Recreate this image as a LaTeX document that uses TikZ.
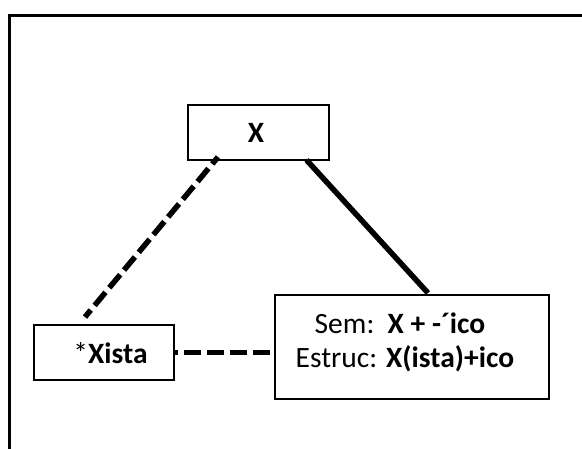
\documentclass[tikz,border=0pt]{standalone}
\usepackage{fontspec}
\setmainfont{Carlito}
\begin{document}
\begin{tikzpicture}[x=1pt,y=-1pt,
  box/.style={draw=black,line width=2.2pt,inner sep=0pt,fill=white},
  lbl/.style={inner sep=0pt,font=\fontsize{29.5}{35}\selectfont},
  thickdash/.style={line width=5.5pt,dash pattern=on 17pt off 6pt},
  thicksolid/.style={line width=5.5pt}]
\useasboundingbox (0,0) rectangle (582,448);
\clip (0,0) rectangle (582,448);
% outer frame (right and bottom edges lie outside the picture)
\draw[line width=3.2pt] (9.7,15.5) rectangle (640,500);
% boxes
\node[box,minimum width=141pt,minimum height=55pt] (xbox) at (258.5,132.5) {};
\node[box,minimum width=140.3pt,minimum height=55pt] (xista) at (103.9,352.5) {};
\node[box,minimum width=274pt,minimum height=104pt] (sem) at (412,347) {};
% texts
\node[lbl,anchor=base] (xtext) at (256,142.7) {\textbf{X}};
\node[lbl,anchor=base] (xistatext) at (110.5,363) {*\textbf{Xista}};
\node[lbl,anchor=base west] (semtext) at (314.5,333.5) {Sem:\ \ \textbf{X + -\char"00B4 ico}};
\node[lbl,anchor=base west] (estrtext) at (295.5,367.5) {Estruc: \textbf{X(ista)+ico}};
% connector ends
\coordinate (da) at (218,157);
\coordinate (db) at (85,317);
\coordinate (sa) at (306.5,160);
\coordinate (sb) at (428,293);
% connectors
\draw[thickdash,dash phase=8pt] (da) -- (db);
\draw[thicksolid] (sa) -- (sb);
\draw[thickdash,dash phase=14.5pt] (xista.east) -- (xista.east -| sem.west);
\end{tikzpicture}
\end{document}
